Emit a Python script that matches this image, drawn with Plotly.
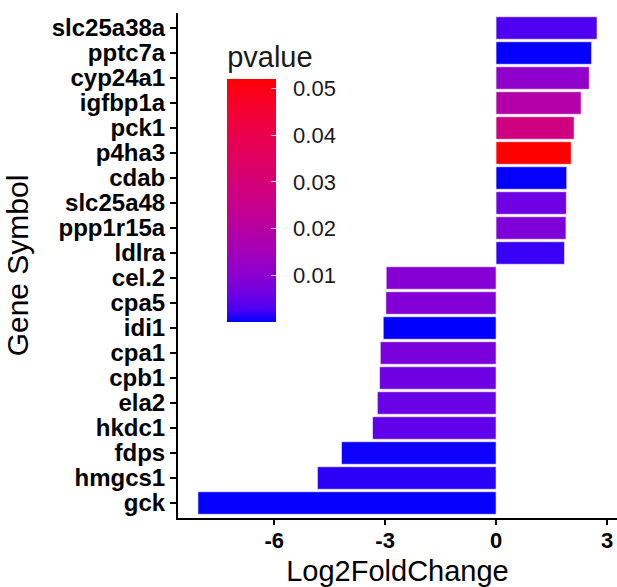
import plotly.graph_objects as go

# Genes listed top to bottom
genes = ["slc25a38a", "pptc7a", "cyp24a1", "igfbp1a", "pck1", "p4ha3", "cdab",
         "slc25a48", "ppp1r15a", "ldlra", "cel.2", "cpa5", "idi1", "cpa1",
         "cpb1", "ela2", "hkdc1", "fdps", "hmgcs1", "gck"]
log2fc = [2.73, 2.58, 2.52, 2.30, 2.11, 2.03, 1.91, 1.90, 1.89, 1.85,
          -2.97, -2.98, -3.05, -3.13, -3.15, -3.21, -3.34, -4.18, -4.83, -8.06]
pvalue = [0.0030, 0.0002, 0.0110, 0.0190, 0.0280, 0.0521, 0.0002, 0.0060, 0.0080, 0.0020,
          0.0090, 0.0088, 0.00001, 0.0075, 0.0060, 0.0055, 0.0045, 0.0005, 0.0015, 0.0002]
cbar_ticks = [0.01, 0.02, 0.03, 0.04, 0.05]


# Blue -> red gradient interpolated in CIELAB space
def _to_lin(c):
    c = c / 255.0
    return c / 12.92 if c <= 0.04045 else ((c + 0.055) / 1.055) ** 2.4


def _from_lin(c):
    c = 12.92 * c if c <= 0.0031308 else 1.055 * c ** (1 / 2.4) - 0.055
    return max(0, min(255, round(c * 255)))


WHITE = (0.95047, 1.0, 1.08883)


def rgb_to_lab(rgb):
    r, g, b = (_to_lin(v) for v in rgb)
    x = 0.4124 * r + 0.3576 * g + 0.1805 * b
    y = 0.2126 * r + 0.7152 * g + 0.0722 * b
    z = 0.0193 * r + 0.1192 * g + 0.9505 * b

    def f(t):
        return t ** (1 / 3) if t > 0.008856 else 7.787 * t + 16 / 116

    fx, fy, fz = f(x / WHITE[0]), f(y / WHITE[1]), f(z / WHITE[2])
    return 116 * fy - 16, 500 * (fx - fy), 200 * (fy - fz)


def lab_to_rgb(lab):
    L, a, bb = lab
    fy = (L + 16) / 116
    fx = fy + a / 500
    fz = fy - bb / 200

    def finv(t):
        return t ** 3 if t ** 3 > 0.008856 else (t - 16 / 116) / 7.787

    x, y, z = finv(fx) * WHITE[0], finv(fy) * WHITE[1], finv(fz) * WHITE[2]
    r = 3.2406 * x - 1.5372 * y - 0.4986 * z
    g = -0.9689 * x + 1.8758 * y + 0.0415 * z
    b = 0.0557 * x - 0.2040 * y + 1.0570 * z
    return tuple(_from_lin(max(0.0, v)) for v in (r, g, b))


lab_lo = rgb_to_lab((0, 0, 255))
lab_hi = rgb_to_lab((255, 0, 0))
n_stops = 21
colorscale = []
for i in range(n_stops):
    t = i / (n_stops - 1)
    lab = tuple(lo + (hi - lo) * t for lo, hi in zip(lab_lo, lab_hi))
    r, g, b = lab_to_rgb(lab)
    colorscale.append([t, f"rgb({r},{g},{b})"])

FONT = "Liberation Sans, Arial, sans-serif"
NBSP = "\u00a0"

fig = go.Figure(
    go.Bar(
        x=log2fc,
        y=genes,
        orientation="h",
        marker=dict(
            color=pvalue,
            colorscale=colorscale,
            line=dict(color="rgba(255,255,255,0.55)", width=1),
            colorbar=dict(
                title=dict(text="pvalue", side="top",
                           font=dict(family=FONT, size=29, color="#1a1a1a")),
                x=0.112, xanchor="left",
                y=0.943, yanchor="top",
                lenmode="pixels", len=280,
                thickness=49,
                xpad=0, ypad=0,
                outlinewidth=0,
                tickvals=cbar_ticks,
                ticktext=[NBSP * 2 + f"{v:.2f}" for v in cbar_ticks],
                ticks="inside", ticklen=5, tickwidth=1, tickcolor="rgba(255,255,255,0.8)",
                tickfont=dict(family=FONT, size=22, color="#1a1a1a"),
            ),
        ),
        width=0.9,
        hovertemplate="%{y}: %{x}<extra></extra>",
    )
)

fig.update_layout(
    width=617,
    height=587,
    margin=dict(l=178, r=0, t=13, b=69),
    paper_bgcolor="white",
    plot_bgcolor="white",
    showlegend=False,
    font=dict(family=FONT, color="black"),
)

fig.update_xaxes(
    range=[-8.6, 3.27],
    tickvals=[-6, -3, 0, 3],
    ticktext=["<b>-6</b>", "<b>-3</b>", "<b>0</b>", "<b>3</b>"],
    tickfont=dict(family=FONT, size=22, color="black"),
    ticks="outside", ticklen=5, tickwidth=2, tickcolor="black",
    ticklabelstandoff=-3,
    showline=True, linecolor="black", linewidth=2,
    showgrid=False, zeroline=False,
    title=dict(text="Log2FoldChange", standoff=8,
               font=dict(family=FONT, size=29, color="black")),
)

fig.update_yaxes(
    type="category",
    categoryorder="array",
    categoryarray=genes,
    range=[19.6, -0.6],
    tickvals=genes,
    ticktext=[f"<b>{g}</b>" for g in genes],
    tickfont=dict(family=FONT, size=24, color="black"),
    ticks="outside", ticklen=6, tickwidth=2, tickcolor="black",
    showline=True, linecolor="black", linewidth=2,
    showgrid=False, zeroline=False,
    automargin=False,
    title=dict(text="Gene Symbol", standoff=14,
               font=dict(family=FONT, size=30, color="black")),
)

fig.write_html("out.html")
